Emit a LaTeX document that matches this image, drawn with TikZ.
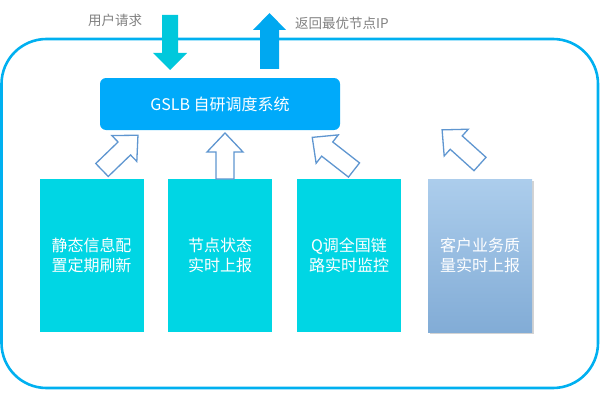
\documentclass[tikz,border=0pt]{standalone}
\usepackage{fontspec}
\setmainfont{Noto Sans CJK SC}
\usetikzlibrary{shadows}
\definecolor{framec}{RGB}{0,176,240}
\definecolor{gslbc}{RGB}{0,170,250}
\definecolor{tealc}{RGB}{0,214,228}
\definecolor{downc}{RGB}{0,200,220}
\definecolor{upc}{RGB}{0,168,240}
\definecolor{hollowc}{RGB}{95,150,208}
\definecolor{gtop}{RGB}{172,205,236}
\definecolor{gbot}{RGB}{130,172,214}
\definecolor{labelc}{RGB}{128,128,128}
\tikzset{
  box/.style={fill=tealc, minimum width=104pt, minimum height=153pt, inner sep=0pt,
    text=white, align=center, font=\fontsize{16}{20}\selectfont},
  qbox/.style={box, top color=gtop, bottom color=gbot,
    drop shadow={shadow xshift=1.5pt, shadow yshift=-2pt, opacity=0.35}},
  toplabel/.style={text=labelc, font=\fontsize{13.5}{16}\selectfont, inner sep=0pt},
  hollow/.style={draw=hollowc, fill=white, line width=1.3pt, line join=miter},
  pics/harrow/.style={code={
    \draw[hollow] (0,-9) -- (#1-19,-9) -- (#1-19,-18) -- (#1,0) -- (#1-19,18)
      -- (#1-19,9) -- (0,9) -- cycle;}}
}
\begin{document}
\begin{tikzpicture}[x=1pt,y=1pt]
\useasboundingbox (0,0) rectangle (600,400);
% outer frame
\draw[framec, line width=2.6pt, rounded corners=45pt] (1.5,361) rectangle (598,12);
% labels
\node[toplabel] (req) at (115,380) {用户请求};
\node[toplabel, anchor=west] (ret) at (295,377) {返回最优节点IP};
% in/out arrows
\fill[downc] (162,385) -- (178,385) -- (178,347) -- (187,347) -- (170,330)
  -- (153,347) -- (162,347) -- cycle;
\fill[upc] (260,331) -- (279,331) -- (279,370) -- (286,370) -- (269.5,387)
  -- (253,370) -- (260,370) -- cycle;
% GSLB
\node[fill=gslbc, rounded corners=6pt, minimum width=240pt, minimum height=52pt,
  text=white, font=\fontsize{16}{20}\selectfont] (gslb) at (220,296) {GSLB 自研调度系统};
% boxes
\node[box] (b1) at (91.5,144.5) {静态信息配\\置定期刷新};
\node[box] (b2) at (220,144.5) {节点状态\\实时上报};
\node[box] (b3) at (349,144.5) {Q调全国链\\路实时监控};
\node[qbox] (b4) at (480,144.5) {客户业务质\\量实时上报};
% hollow arrows
\pic[rotate=44] at (102,230) {harrow=50};
\pic[rotate=90] at (225,221) {harrow=46};
\pic[rotate=142] at (354,230) {harrow=53};
\pic[rotate=138] at (480,236) {harrow=51};
\end{tikzpicture}
\end{document}
